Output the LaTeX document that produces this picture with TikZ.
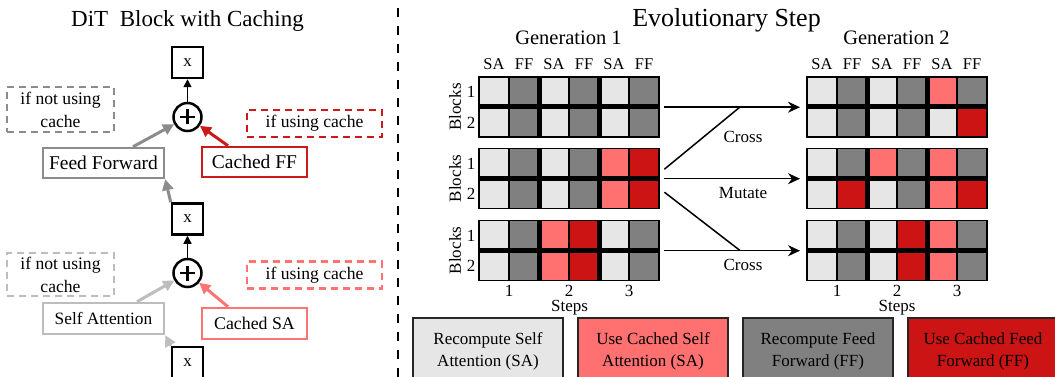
\documentclass[tikz,border=0pt]{standalone}
\usepackage{fontspec}
\setmainfont{Liberation Serif}
\usetikzlibrary{arrows.meta}
\definecolor{cL}{HTML}{E6E6E6}
\definecolor{cD}{HTML}{808080}
\definecolor{cS}{HTML}{FF7070}
\definecolor{cR}{HTML}{CC1414}
\definecolor{gA}{HTML}{8C8C8C}
\definecolor{gB}{HTML}{BDBDBD}
\definecolor{rA}{HTML}{CC1A1A}
\definecolor{rB}{HTML}{FF7373}
\newcommand{\mygrid}[5]{%
  \node[gridnode, anchor=north west] (#1) at (#2,#3) {};
  \foreach \c [count=\i from 0] in {#4} \draw[cellb, fill=\c] ({#2+30*\i},#3) rectangle ++(30,30);
  \foreach \c [count=\i from 0] in {#5} \draw[cellb, fill=\c] ({#2+30*\i},{#3+30}) rectangle ++(30,30);
  \draw[thickb] (#2,{#3+30}) -- ++(180,0);
  \draw[thickb] ({#2+60},#3) -- ++(0,60);
  \draw[thickb] ({#2+120},#3) -- ++(0,60);
  \draw[outerb] (#2,#3) rectangle ++(180,60);
}
\tikzset{
  gridnode/.style={minimum width=180pt, minimum height=60pt, inner sep=0pt},
  cellb/.style={draw=black, line width=1.3pt},
  thickb/.style={draw=black, line width=5pt},
  outerb/.style={draw=black, line width=1.5pt},
  txt/.style={inner sep=0pt, font=\fontsize{17}{20}\selectfont},
  hdr/.style={inner sep=0pt, font=\fontsize{16.5}{20}\selectfont},
  xbox/.style={draw=black, line width=2.5pt, minimum width=31pt, minimum height=31pt, inner sep=0pt, font=\fontsize{17}{20}\selectfont},
  plusc/.style={draw=black, circle, line width=2.5pt, minimum size=28pt, inner sep=0pt},
  solidbox/.style={draw=#1, line width=2.5pt, inner sep=0pt, align=center},
  dashbox/.style={draw=#1, line width=2.5pt, dash pattern=on 7pt off 5pt, inner sep=0pt, align=center, font=\fontsize{17.6}{23}\selectfont},
  barr/.style={draw=black, line width=1.5pt, -{Triangle[length=8pt,width=8pt]}},
  carr/.style={draw=#1, line width=3pt, -{Triangle[length=11pt,width=11pt]}},
  garr/.style={draw=black, line width=1.5pt, -{Stealth[length=12pt,width=11pt]}},
  gline/.style={draw=black, line width=1.5pt},
  legbox/.style={draw=black!85, line width=1.5pt, minimum width=150pt, minimum height=66pt, inner sep=0pt, align=center, font=\fontsize{17}{22}\selectfont},
}
\begin{document}
\begin{tikzpicture}[x=1pt, y=-1pt]
\useasboundingbox (0,0) rectangle (1055,377);
\fill[white] (0,0) rectangle (1055,377);

% ---------- left panel ----------
\node[anchor=base, inner sep=0pt, font=\fontsize{23}{27}\selectfont] (t1) at (187.5,26.7) {DiT\ \ Block with Caching};

\node[xbox] (xt) at (187.5,62.5) {x};
\node[plusc] (pt) at (187.5,117) {};
\draw[line width=2.5pt] ([xshift=-7.5pt]pt.center) -- ([xshift=7.5pt]pt.center);
\draw[line width=2.5pt] ([yshift=-7.5pt]pt.center) -- ([yshift=7.5pt]pt.center);
\node[dashbox=gA, minimum width=107pt, minimum height=45pt] (nt) at (60.5,109.5) {if not using\\cache};
\node[dashbox=rA, minimum width=135pt, minimum height=27pt] (ut) at (314.5,123.5) {if using cache};
\node[solidbox=gA, minimum width=121pt, minimum height=30pt, font=\fontsize{19.5}{23}\selectfont] (ff) at (103.5,163) {Feed Forward};
\node[solidbox=rA, minimum width=105pt, minimum height=30pt, font=\fontsize{19.5}{23}\selectfont] (cff) at (254.5,162) {Cached FF};

\node[xbox] (xm) at (187.5,219) {x};
\node[plusc] (pb) at (187.5,273) {};
\draw[line width=2.5pt] ([xshift=-7.5pt]pb.center) -- ([xshift=7.5pt]pb.center);
\draw[line width=2.5pt] ([yshift=-7.5pt]pb.center) -- ([yshift=7.5pt]pb.center);
\node[dashbox=gB, minimum width=107pt, minimum height=43pt] (nb) at (60.5,274.5) {if not using\\cache};
\node[dashbox=rB, minimum width=135pt, minimum height=27pt] (ub) at (314.5,275) {if using cache};
\node[solidbox=gB, minimum width=121pt, minimum height=31pt, font=\fontsize{17.3}{21}\selectfont] (sa) at (103.5,318.5) {Self Attention};
\node[solidbox=rB, minimum width=105pt, minimum height=31pt, font=\fontsize{17.8}{21}\selectfont] (csa) at (254.5,323.5) {Cached SA};
\node[xbox] (xb) at (187.5,362.5) {x};

\draw[barr] (pt.north) -- (xt.south);
\draw[carr=gA] ([xshift=29.5pt]ff.north) -- (pt);
\draw[carr=rA] ([xshift=-26.5pt]cff.north) -- (pt);
\draw[carr=gA] (xm.north west) -- (ff.south east);
\draw[barr] (pb.north) -- (xm.south);
\draw[carr=gB] ([xshift=33.5pt]sa.north) -- (pb);
\draw[carr=rB] ([xshift=-26.5pt]csa.north) -- (pb);
\draw[carr=gB] (xb.north west) -- (sa.south east);

% separator
\draw[line width=2.5pt, dash pattern=on 9pt off 9pt] (398,8) -- (398,377);

% ---------- right panel ----------
\node[anchor=base, inner sep=0pt, font=\fontsize{26}{30}\selectfont] (t2) at (726.5,26.7) {Evolutionary Step};
\node[anchor=base, inner sep=0pt, font=\fontsize{20.5}{24}\selectfont] (gen1) at (568.5,45) {Generation 1};
\node[anchor=base, inner sep=0pt, font=\fontsize{20.5}{24}\selectfont] (gen2) at (896.5,45) {Generation 2};

\foreach \t [count=\i from 0] in {SA,FF,SA,FF,SA,FF} {
  \node[hdr, anchor=base] (ha\i) at ({494+30*\i},70) {\t};
  \node[hdr, anchor=base] (hb\i) at ({822+30*\i},70) {\t};
}

\mygrid{gA1}{479}{77}{cL,cD,cL,cD,cL,cD}{cL,cD,cL,cD,cL,cD}
\mygrid{gA2}{479}{148.5}{cL,cD,cL,cD,cS,cR}{cL,cD,cL,cD,cS,cR}
\mygrid{gA3}{479}{220.5}{cL,cD,cS,cR,cL,cD}{cL,cD,cS,cR,cL,cD}
\mygrid{gB1}{807}{77}{cL,cD,cL,cD,cS,cD}{cL,cD,cL,cD,cL,cR}
\mygrid{gB2}{807}{148.5}{cL,cD,cS,cD,cS,cD}{cL,cR,cL,cD,cS,cR}
\mygrid{gB3}{807}{220.5}{cL,cD,cL,cR,cS,cD}{cL,cD,cL,cR,cS,cD}

\foreach \y [count=\k] in {77,148.5,220.5} {
  \node[txt, rotate=90] (bl\k) at (455,{\y+30}) {Blocks};
  \node[txt] (ra\k) at (471,{\y+15}) {1};
  \node[txt] (rb\k) at (471,{\y+45.5}) {2};
}

\foreach \s [count=\i from 0] in {1,2,3} {
  \node[txt, anchor=base] (sa\i) at ({509+60*\i},296) {\s};
  \node[txt, anchor=base] (sb\i) at ({837+60*\i},296) {\s};
}
\node[txt, anchor=base] (stA) at (569.5,311) {Steps};
\node[txt, anchor=base] (stB) at (897,311) {Steps};

% evolution arrows
\coordinate (c1) at (740,107);
\coordinate (c3) at (740,250.5);
\draw[garr] ([xshift=5pt]gA1.east) -- ([xshift=-7pt]gB1.west);
\draw[garr] ([xshift=5pt]gA2.east) -- ([xshift=-7pt]gB2.west);
\draw[garr] ([xshift=5pt]gA3.east) -- ([xshift=-7pt]gB3.west);
\draw[gline] ([xshift=5pt,yshift=9.5pt]gA2.east) -- (c1);
\draw[gline] ([xshift=5pt,yshift=-13.5pt]gA2.east) -- (c3);
\node[txt] (lc1) at (743,137) {Cross};
\node[txt] (lm) at (743,193.5) {Mutate};
\node[txt] (lc2) at (743,265) {Cross};

% legend
\node[legbox, fill=cL] (l1) at (488,351) {Recompute Self\\Attention (SA)};
\node[legbox, fill=cS] (l2) at (653,351) {Use Cached Self\\Attention (SA)};
\node[legbox, fill=cD] (l3) at (818,351) {Recompute Feed\\Forward (FF)};
\node[legbox, fill=cR] (l4) at (983,351) {Use Cached Feed\\Forward (FF)};
\end{tikzpicture}
\end{document}
